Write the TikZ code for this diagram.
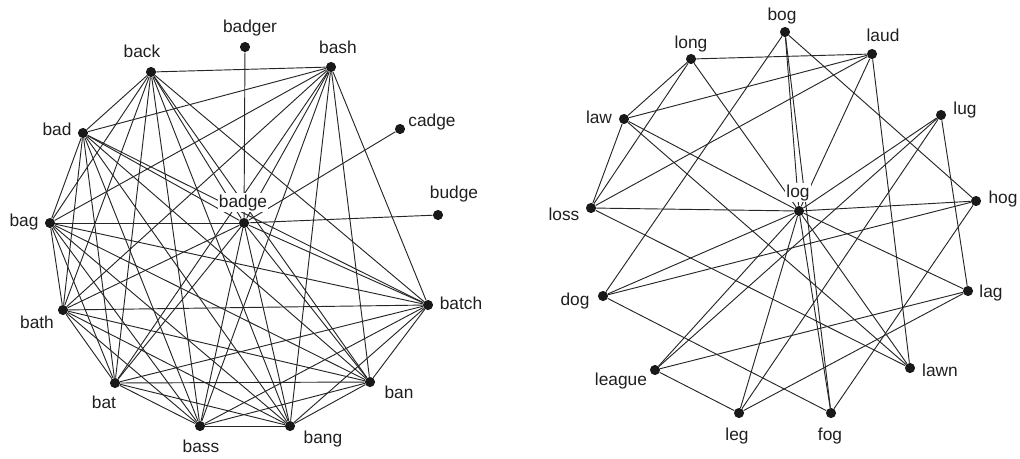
\documentclass[tikz,border=0pt]{standalone}
\usepackage{fontspec}
\setmainfont{Liberation Sans}
\begin{document}
\begin{tikzpicture}[x=0.75pt, y=-0.75pt,
  dot/.style={circle, fill=black!90, inner sep=0pt, minimum size=7.6pt},
  word/.style={anchor=base, font=\fontsize{13}{15}\selectfont, text=black!88, inner sep=0.8pt},
  halo/.style={fill=white},
  link/.style={line width=0.7pt, draw=black!85}]
\useasboundingbox (0,0) rectangle (1020,458);

% ---- left network: words around "badge" ----
\foreach \n/\x/\y in {badger/245/47, back/151/72, bash/331/67, cadge/400/129,
    bad/83/133, budge/438/215, badge/244/223, bag/50/223, bath/63/310,
    batch/428/305, bat/115/383, ban/370/382, bass/200/426, bang/290/426}
  \node[dot] (\n) at (\x,\y) {};

% ---- right network: words around "log" ----
\foreach \n/\x/\y in {bog/785/32, long/691/59, laud/872/54, lug/941/115,
    law/624/119, hog/976/201, loss/591/208, log/799/211, dog/603/296,
    lag/968/291, league/655/370, lawn/910/368, leg/739/413, fog/831/413}
  \node[dot] (\n) at (\x,\y) {};

% the eleven /b\ae X/ words are all linked to one another
\foreach \a [count=\i] in {back,bash,bad,bag,bath,bat,bass,bang,ban,batch,badge}
  \foreach \b [count=\j] in {back,bash,bad,bag,bath,bat,bass,bang,ban,batch,badge}
    {\ifnum\j>\i \draw[link] (\a) -- (\b);\fi}
\foreach \b in {badger,cadge,budge}
  \draw[link] (badge) -- (\b);

% links of the right network
\foreach \a/\b in {bog/log, bog/dog, bog/hog, bog/fog, dog/log, dog/hog, dog/fog,
    hog/log, hog/fog, fog/log,
    lag/leg, lag/lug, lag/league, lag/log, leg/lug, leg/league, leg/log,
    lug/league, lug/log, league/log,
    loss/long, loss/laud, loss/law, loss/lawn, loss/log, long/laud, long/law,
    long/log, laud/law, laud/lawn, laud/log, law/lawn, law/log, lawn/log}
  \draw[link] (\a) -- (\b);

% word labels
\foreach \n/\x/\y in {badger/250/32, back/142/57, bash/338/53, cadge/432/126,
    bad/57/135, budge/454/198, bag/24/226, bath/37/328, bat/104/408,
    bass/201/452, bang/323/443, ban/399/398, batch/461/309,
    bog/782/20, long/691/48, laud/883/41, lug/965/114, law/599/123,
    hog/1003/203, loss/564/220, dog/575/305, lag/991/297, league/621/385,
    lawn/940/376, leg/737/440, fog/830/440}
  \node[word] (l-\n) at (\x,\y) {\n};
\node[word, halo] (l-badge) at (243,207) {badge};
\node[word, halo] (l-log) at (798,197) {log};
\end{tikzpicture}
\end{document}
